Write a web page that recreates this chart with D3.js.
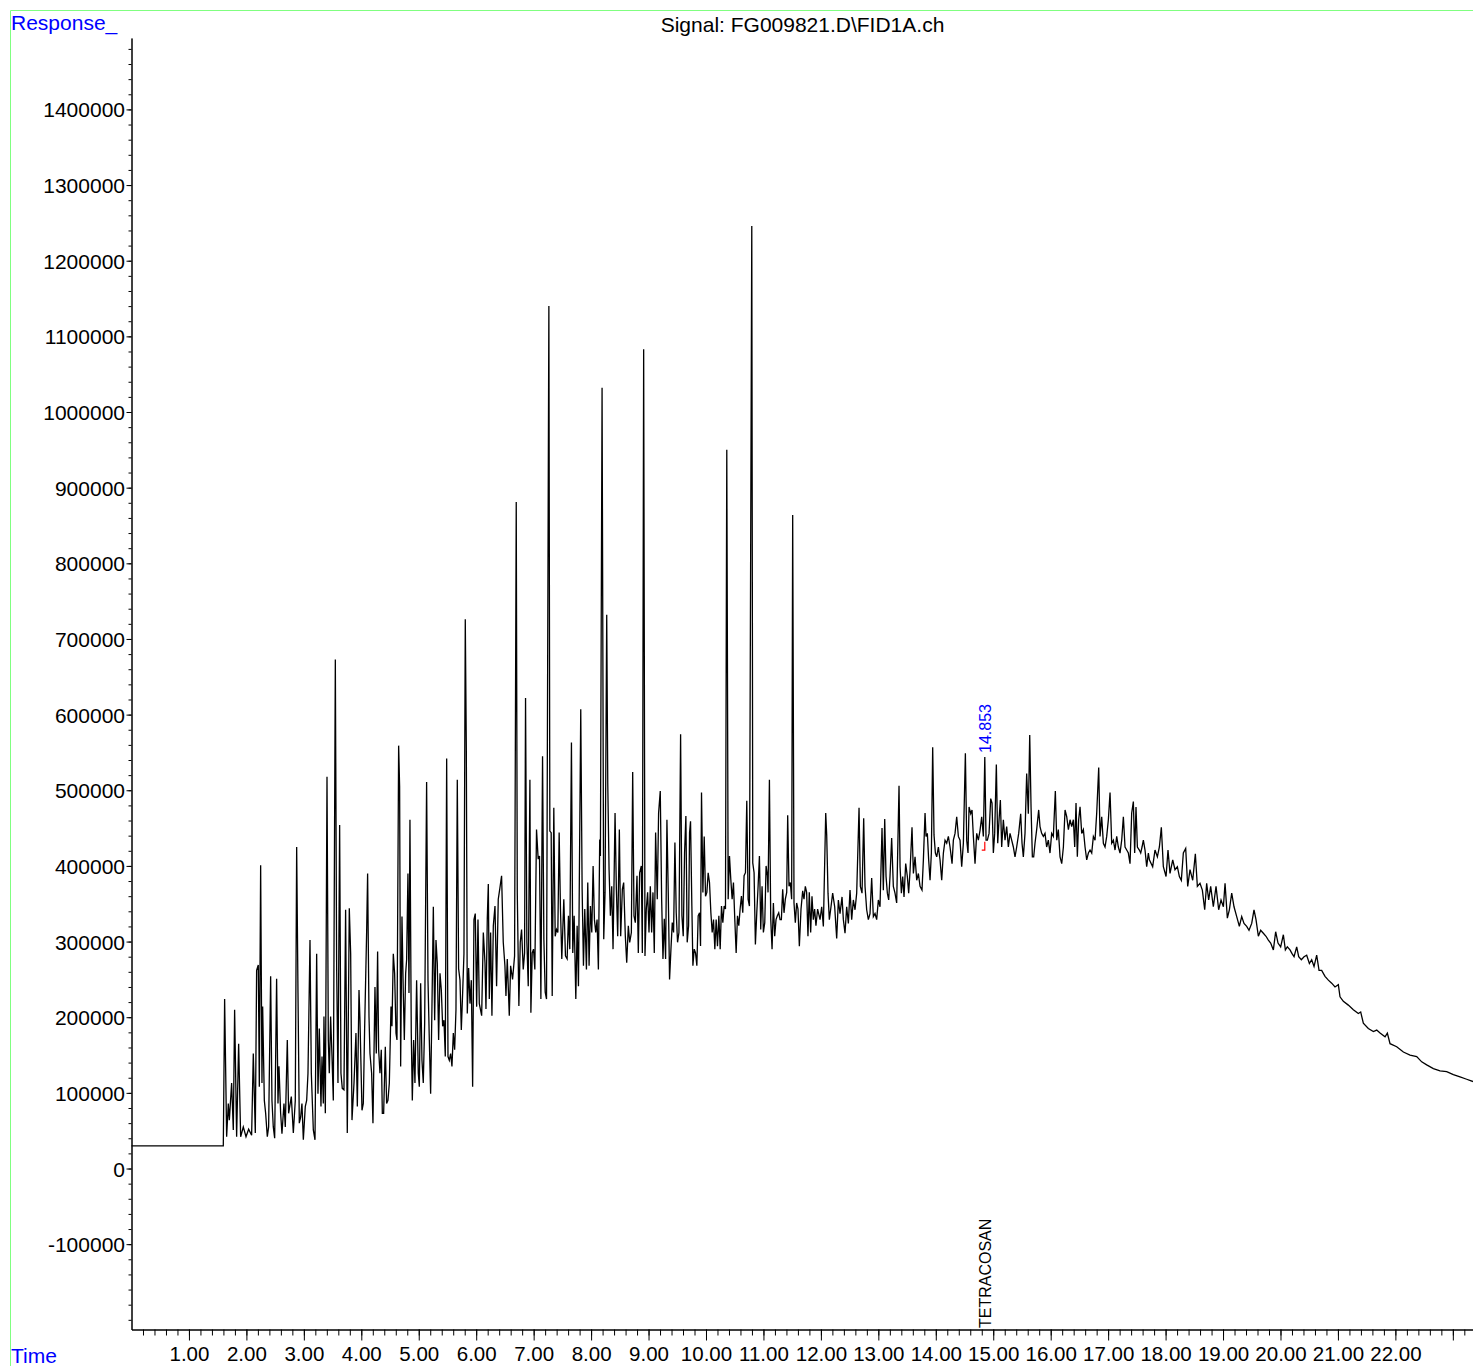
<!DOCTYPE html>
<html>
<head>
<meta charset="utf-8">
<script src="https://cdn.jsdelivr.net/npm/d3@7/dist/d3.min.js"></script>
<style>
  html, body { margin: 0; padding: 0; background: #fff; }
  svg { display: block; }
  text { font-family: "Liberation Sans", Arial, Helvetica, sans-serif; }
</style>
</head>
<body>
<script>
// ---------------- DATA ----------------
const chartTitle = "Signal: FG009821.D\\FID1A.ch";
const yAxisTitle = "Response_";
const xAxisTitle = "Time";

// Y tick labels (response)
const responseTickValues = [-100000, 0, 100000, 200000, 300000, 400000, 500000, 600000, 700000,
  800000, 900000, 1000000, 1100000, 1200000, 1300000, 1400000];
const responseTickLabels = ["-100000", "0", "100000", "200000", "300000", "400000", "500000", "600000",
  "700000", "800000", "900000", "1000000", "1100000", "1200000", "1300000", "1400000"];

// X tick labels (time, min)
const timeTickValues = [1, 2, 3, 4, 5, 6, 7, 8, 9, 10, 11, 12, 13, 14, 15, 16, 17, 18, 19, 20, 21, 22, 23];
const timeTickLabels = ["1.00", "2.00", "3.00", "4.00", "5.00", "6.00", "7.00", "8.00", "9.00", "10.00",
  "11.00", "12.00", "13.00", "14.00", "15.00", "16.00", "17.00", "18.00", "19.00", "20.00", "21.00", "22.00", ""];

// Signal trace: [time (min), response]
const traceStart = [[0, 30000], [1.598, 30000]];

const trace0to6 = [
  [1.621,224000],[1.656,42000],[1.685,86000],[1.703,64000],[1.743,113000],[1.772,51000],[1.795,210000],
  [1.830,42000],[1.865,165000],[1.900,42000],[1.946,55000],[1.993,42000],[2.039,52000],[2.091,44000],
  [2.120,152000],[2.155,47000],[2.178,262000],[2.207,269000],[2.225,108000],[2.248,401000],[2.271,113000],
  [2.283,214000],[2.312,90000],[2.335,73000],[2.364,42000],[2.387,55000],[2.422,254000],[2.445,90000],
  [2.468,55000],[2.492,40000],[2.526,251000],[2.550,86000],[2.567,135000],[2.596,73000],[2.619,46000],
  [2.654,86000],[2.677,55000],[2.712,170000],[2.735,73000],[2.782,95000],[2.817,47000],[2.851,90000],
  [2.875,425000],[2.898,232000],[2.921,60000],[2.944,68000],[2.967,86000],[2.991,38000],[3.025,82000],
  [3.049,90000],[3.072,126000],[3.107,302000],[3.130,126000],[3.165,51000],[3.194,38000],[3.223,284000],
  [3.246,99000],[3.269,185000],[3.298,82000],[3.316,148000],[3.339,86000],[3.350,201000],[3.374,73000],
  [3.403,518000],[3.426,170000],[3.443,126000],[3.466,201000],[3.490,148000],[3.513,90000],[3.548,673000],
  [3.571,265000],[3.594,113000],[3.623,454000],[3.646,126000],[3.669,106000],[3.698,104000],[3.727,342000],
  [3.756,47000],[3.791,344000],[3.815,284000],[3.838,64000],[3.873,113000],[3.907,179000],[3.931,82000],
  [3.960,236000],[3.977,196000],[4.012,77000],[4.035,86000],[4.058,185000],[4.093,313000],[4.110,390000],
  [4.134,201000],[4.151,152000],[4.180,126000],[4.203,60000],[4.238,240000],[4.261,152000],[4.284,287000],
  [4.302,157000],[4.325,126000],[4.348,157000],[4.366,73000],[4.389,73000],[4.418,161000],[4.441,86000],
  [4.464,90000],[4.488,113000],[4.517,214000],[4.534,188000],[4.557,284000],[4.580,258000],[4.604,179000],
  [4.621,170000],[4.650,559000],[4.667,505000],[4.685,135000],[4.708,333000],[4.731,232000],[4.749,170000],
  [4.772,258000],[4.789,276000],[4.812,390000],[4.830,232000],[4.847,461000],[4.870,179000],[4.888,90000],
  [4.911,170000],[4.934,113000],[4.963,249000],[4.992,126000],[5.010,108000],[5.033,245000],[5.056,143000],
  [5.079,113000],[5.103,192000],[5.137,511000],[5.161,249000],[5.184,170000],[5.207,99000],[5.230,214000],
  [5.254,346000],[5.277,196000],[5.300,302000],[5.323,271000],[5.346,170000],[5.370,258000],[5.393,236000],
  [5.416,188000],[5.439,196000],[5.462,148000],[5.486,542000],[5.509,148000],[5.532,143000],[5.555,152000],
  [5.578,135000],[5.602,179000],[5.625,157000],[5.648,210000],[5.671,514000],[5.694,264000],[5.718,249000],
  [5.741,183000],[5.764,232000],[5.787,284000],[5.810,726000],[5.828,556000],[5.845,205000],[5.868,265000],
  [5.892,218000],[5.915,249000],[5.938,108000],[5.961,329000],[5.984,337000],[6.008,214000],[6.031,329000],
  [6.054,218000]
];

const trace6to12 = [
  [6.095,202000],[6.124,312000],[6.153,272000],[6.170,211000],[6.193,330000],[6.211,376000],[6.228,224000],
  [6.251,312000],[6.274,202000],[6.298,321000],[6.327,347000],[6.355,241000],[6.384,356000],[6.413,371000],
  [6.442,387000],[6.471,299000],[6.500,268000],[6.518,228000],[6.541,277000],[6.576,202000],[6.599,268000],
  [6.633,250000],[6.668,281000],[6.697,881000],[6.715,365000],[6.743,215000],[6.767,299000],[6.790,316000],
  [6.819,263000],[6.842,285000],[6.859,622000],[6.882,299000],[6.906,241000],[6.935,514000],[6.952,206000],
  [6.975,285000],[6.998,290000],[7.021,263000],[7.050,448000],[7.079,409000],[7.102,413000],[7.126,224000],
  [7.155,545000],[7.178,303000],[7.201,233000],[7.224,224000],[7.265,1140000],[7.282,446000],[7.305,444000],
  [7.323,228000],[7.351,477000],[7.375,307000],[7.398,316000],[7.421,312000],[7.444,444000],[7.467,343000],
  [7.490,277000],[7.525,356000],[7.554,281000],[7.583,277000],[7.606,334000],[7.629,290000],[7.658,563000],
  [7.681,285000],[7.705,334000],[7.734,224000],[7.757,321000],[7.780,241000],[7.820,607000],[7.844,369000],
  [7.867,268000],[7.890,343000],[7.919,263000],[7.942,378000],[7.965,268000],[7.988,347000],[8.012,312000],
  [8.035,400000],[8.058,329000],[8.081,312000],[8.104,329000],[8.127,263000],[8.150,435000],[8.162,413000],
  [8.191,1032000],[8.220,303000],[8.243,365000],[8.272,732000],[8.290,510000],[8.313,395000],[8.336,334000],
  [8.359,373000],[8.382,290000],[8.417,470000],[8.440,369000],[8.463,307000],[8.492,448000],[8.515,307000],
  [8.544,369000],[8.567,378000],[8.596,307000],[8.620,272000],[8.648,321000],[8.672,299000],[8.701,312000],
  [8.724,524000],[8.747,334000],[8.770,325000],[8.799,387000],[8.822,285000],[8.845,391000],[8.874,400000],
  [8.892,285000],[8.915,1083000],[8.938,281000],[8.961,343000],[8.984,365000],[9.008,312000],[9.031,373000],
  [9.054,312000],[9.077,365000],[9.100,285000],[9.123,444000],[9.152,356000],[9.175,470000],[9.204,499000],
  [9.228,356000],[9.251,277000],[9.274,330000],[9.297,277000],[9.320,461000],[9.343,365000],[9.366,250000],
  [9.390,290000],[9.413,325000],[9.436,312000],[9.459,431000],[9.482,338000],[9.505,299000],[9.529,312000],
  [9.558,574000],[9.581,334000],[9.604,307000],[9.627,417000],[9.650,466000],[9.673,299000],[9.697,321000],
  [9.714,444000],[9.731,459000],[9.754,347000],[9.772,268000],[9.795,290000],[9.818,285000],[9.841,268000],
  [9.864,334000],[9.888,338000],[9.905,294000],[9.922,497000],[9.946,365000],[9.969,439000],[9.992,360000],
  [10.015,365000],[10.038,391000],[10.061,378000],[10.085,338000],[10.108,312000],[10.131,329000],
  [10.154,290000],[10.177,329000],[10.200,294000],[10.224,334000],[10.247,290000],[10.270,347000],
  [10.293,325000],[10.316,347000],[10.339,343000],[10.362,950000],[10.386,356000],[10.409,413000],
  [10.432,382000],[10.455,356000],[10.478,378000],[10.501,330000],[10.525,285000],[10.548,334000],
  [10.571,321000],[10.594,343000],[10.617,360000],[10.640,338000],[10.663,387000],[10.687,391000],
  [10.710,486000],[10.733,356000],[10.756,347000],[10.797,1246000],[10.814,404000],[10.837,391000],
  [10.860,296000],[10.884,338000],[10.907,373000],[10.930,413000],[10.953,316000],[10.976,373000],
  [10.999,312000],[11.023,325000],[11.046,400000],[11.069,387000],[11.080,365000],[11.104,514000],
  [11.127,330000],[11.150,290000],[11.173,351000],[11.196,307000],[11.219,329000],[11.242,334000],
  [11.266,338000],[11.289,329000],[11.312,329000],[11.335,369000],[11.358,338000],[11.381,356000],
  [11.405,365000],[11.422,467000],[11.445,373000],[11.468,378000],[11.491,356000],[11.509,864000],
  [11.532,351000],[11.555,325000],[11.578,351000],[11.601,343000],[11.625,294000],[11.654,343000],
  [11.683,367000],[11.706,356000],[11.729,373000],[11.752,365000],[11.775,307000],[11.798,365000],
  [11.822,312000],[11.845,360000],[11.868,329000],[11.891,343000],[11.914,321000],[11.943,343000]
];

const trace12to18 = [
  [11.985,329000],[12.014,346000],[12.043,320000],[12.084,470000],[12.101,441000],[12.124,364000],
  [12.147,329000],[12.176,346000],[12.205,364000],[12.240,346000],[12.275,304000],[12.304,355000],
  [12.333,337000],[12.368,359000],[12.391,329000],[12.420,311000],[12.449,346000],[12.478,324000],
  [12.507,368000],[12.536,329000],[12.565,355000],[12.594,342000],[12.623,364000],[12.664,477000],
  [12.687,373000],[12.716,364000],[12.745,463000],[12.768,373000],[12.797,342000],[12.826,329000],
  [12.855,337000],[12.884,384000],[12.913,333000],[12.942,337000],[12.971,329000],[13.000,355000],
  [13.029,346000],[13.064,450000],[13.087,368000],[13.111,462000],[13.134,386000],[13.157,364000],
  [13.180,355000],[13.203,386000],[13.232,437000],[13.261,373000],[13.290,364000],[13.319,351000],
  [13.360,506000],[13.378,399000],[13.401,364000],[13.424,386000],[13.447,359000],[13.476,403000],
  [13.505,386000],[13.528,364000],[13.552,394000],[13.586,451000],[13.610,390000],[13.639,412000],
  [13.668,381000],[13.697,390000],[13.726,373000],[13.760,368000],[13.784,408000],[13.813,470000],
  [13.830,439000],[13.853,443000],[13.876,408000],[13.900,381000],[13.923,417000],[13.946,557000],
  [13.969,441000],[13.993,417000],[14.016,412000],[14.045,425000],[14.074,408000],[14.103,381000],
  [14.132,417000],[14.161,434000],[14.190,430000],[14.219,439000],[14.248,425000],[14.283,403000],
  [14.306,434000],[14.335,443000],[14.364,465000],[14.393,439000],[14.422,434000],[14.451,399000],
  [14.480,430000],[14.515,549000],[14.538,434000],[14.561,417000],[14.579,478000],[14.608,469000],
  [14.631,474000],[14.654,439000],[14.683,403000],[14.712,443000],[14.741,434000],[14.770,447000],
  [14.799,465000],[14.828,439000],[14.853,544000],[14.875,434000],[14.898,434000],[14.927,443000],
  [14.956,489000],[14.979,483000],[15.002,417000],[15.025,443000],[15.054,534000],[15.078,430000],
  [15.101,461000],[15.124,487000],[15.147,425000],[15.176,461000],[15.205,434000],[15.234,452000],
  [15.263,425000],[15.292,443000],[15.321,434000],[15.350,425000],[15.379,412000],[15.408,425000],
  [15.443,443000],[15.478,469000],[15.501,430000],[15.524,412000],[15.553,443000],[15.582,522000],
  [15.611,469000],[15.635,573000],[15.658,478000],[15.681,412000],[15.704,412000],[15.727,430000],
  [15.756,448000],[15.791,474000],[15.814,452000],[15.843,443000],[15.872,439000],[15.901,443000],
  [15.930,425000],[15.959,434000],[15.988,417000],[16.017,443000],[16.046,439000],[16.081,499000],
  [16.105,434000],[16.133,448000],[16.163,412000],[16.192,403000],[16.221,425000],[16.250,474000],
  [16.279,465000],[16.308,448000],[16.337,461000],[16.366,452000],[16.395,461000],[16.418,425000],
  [16.441,483000],[16.464,412000],[16.487,461000],[16.511,478000],[16.540,443000],[16.569,448000],
  [16.598,425000],[16.627,408000],[16.656,417000],[16.685,421000],[16.714,417000],[16.743,439000],
  [16.772,434000],[16.801,470000],[16.836,530000],[16.859,439000],[16.888,465000],[16.917,430000],
  [16.946,425000],[16.975,439000],[17.004,461000],[17.033,497000],[17.062,430000],[17.091,434000],
  [17.120,421000],[17.149,439000],[17.178,425000],[17.207,417000],[17.236,434000],[17.265,465000],
  [17.294,425000],[17.323,421000],[17.352,417000],[17.381,403000],[17.410,470000],[17.439,485000],
  [17.462,417000],[17.485,478000],[17.509,425000],[17.543,421000],[17.567,417000],[17.590,425000],
  [17.613,434000],[17.642,421000],[17.671,399000],[17.700,417000],[17.718,408000]
];

const trace18toEnd = [
  [17.775,399000],[17.816,421000],[17.857,412000],[17.892,425000],[17.926,451000],[17.961,399000],
  [18.008,386000],[18.042,421000],[18.077,390000],[18.124,408000],[18.164,395000],[18.205,399000],
  [18.240,386000],[18.274,381000],[18.309,417000],[18.350,423000],[18.385,373000],[18.425,395000],
  [18.472,381000],[18.518,416000],[18.553,373000],[18.599,377000],[18.640,368000],[18.681,342000],
  [18.715,377000],[18.750,355000],[18.785,373000],[18.831,346000],[18.878,373000],[18.924,342000],
  [18.965,355000],[19.006,346000],[19.035,377000],[19.075,331000],[19.110,342000],[19.151,364000],
  [19.191,346000],[19.238,333000],[19.284,320000],[19.325,333000],[19.365,324000],[19.412,320000],
  [19.452,315000],[19.499,324000],[19.539,342000],[19.574,329000],[19.615,307000],[19.655,315000],
  [19.702,311000],[19.748,307000],[19.789,302000],[19.829,298000],[19.876,289000],[19.916,313000],
  [19.957,298000],[20.003,293000],[20.050,309000],[20.085,289000],[20.119,293000],[20.166,289000],
  [20.201,284000],[20.236,280000],[20.282,293000],[20.317,280000],[20.363,276000],[20.410,280000],
  [20.456,282000],[20.503,271000],[20.543,276000],[20.584,267000],[20.630,282000],[20.671,262000],
  [20.717,262000],[20.775,254000],[20.833,249000],[20.891,245000],[20.949,240000],[21.007,243000],
  [21.036,227000],[21.094,221000],[21.181,216000],[21.268,210000],[21.355,205000],[21.396,207000],
  [21.442,192000],[21.529,185000],[21.617,181000],[21.675,183000],[21.733,179000],[21.820,174000],
  [21.860,179000],[21.907,165000],[22.023,161000],[22.139,154000],[22.255,150000],[22.371,148000],
  [22.458,141000],[22.545,137000],[22.661,132000],[22.777,129000],[22.893,128000],[23.009,124000],
  [23.125,121000],[23.241,118000],[23.351,115000]
];

// Integrated / identified peak
const labelledPeakTime = 14.853;
const labelledPeakResponse = 544000;
const labelledPeakText = "14.853";
const compoundName = "TETRACOSAN";
const peakBaselineMark = [[14.80, 421000], [14.853, 421000], [14.853, 432000]];

// ---------------- DRAWING ----------------
const W = 1473, H = 1366;
const svg = d3.select("body").append("svg").attr("width", W).attr("height", H);
svg.append("rect").attr("width", W).attr("height", H).attr("fill", "#fff");

const x = d3.scaleLinear().domain([0, 23.351]).range([131.5, 1473]);
const y = d3.scaleLinear().domain([-212800, 1494400]).range([1329.5, 38]);

// green frame
svg.append("path")
  .attr("d", `M10.5,${H} L10.5,10.5 L${W},10.5`)
  .attr("fill", "none").attr("stroke", "#80ff80").attr("stroke-width", 1);

// Y axis: minor ticks
const yMinor = d3.range(-200000, 1494000, 20000);
svg.append("g").attr("transform", "translate(131.5,0)")
  .call(d3.axisLeft(y).tickValues(yMinor).tickSize(3).tickSizeOuter(0).tickFormat(""))
  .call(g => g.selectAll("line,path").attr("stroke", "#000"));
// Y axis: major labelled ticks
svg.append("g").attr("transform", "translate(131.5,0)")
  .call(d3.axisLeft(y).tickValues(responseTickValues).tickSize(5).tickSizeOuter(0).tickPadding(1.5)
    .tickFormat((d, i) => responseTickLabels[i]))
  .call(g => g.selectAll("line,path").attr("stroke", "#000"))
  .call(g => g.selectAll("text").attr("font-size", 21).attr("fill", "#000")
    .attr("font-family", "Liberation Sans, Arial, sans-serif").attr("dy", "0.36em"));

// X axis: minor ticks
const xMinor = d3.range(0.2, 23.3, 0.2);
svg.append("g").attr("transform", "translate(0,1329.5)")
  .call(d3.axisBottom(x).tickValues(xMinor).tickSize(6).tickSizeOuter(0).tickFormat(""))
  .call(g => g.selectAll("line,path").attr("stroke", "#000"));
// X axis: major labelled ticks
svg.append("g").attr("transform", "translate(0,1329.5)")
  .call(d3.axisBottom(x).tickValues(timeTickValues).tickSize(11).tickSizeOuter(0).tickPadding(6)
    .tickFormat((d, i) => timeTickLabels[i]))
  .call(g => g.selectAll("line,path").attr("stroke", "#000"))
  .call(g => g.selectAll("text").attr("font-size", 20.5).attr("fill", "#000")
    .attr("font-family", "Liberation Sans, Arial, sans-serif"));

// titles
svg.append("text").attr("x", 11).attr("y", 29.5).attr("font-size", 21).attr("fill", "#0000ff").text(yAxisTitle);
svg.append("text").attr("x", 11).attr("y", 1363).attr("font-size", 21).attr("fill", "#0000ff").text(xAxisTitle);
svg.append("text").attr("x", 802.5).attr("y", 32).attr("text-anchor", "middle")
  .attr("font-size", 21).attr("fill", "#000").text(chartTitle);

// trace
const trace = [].concat(traceStart, trace0to6, trace6to12, trace12to18, trace18toEnd);
const line = d3.line().x(d => x(d[0])).y(d => y(d[1]));
svg.append("path").datum(trace)
  .attr("d", line)
  .attr("fill", "none").attr("stroke", "#000").attr("stroke-width", 1.3)
  .attr("stroke-linejoin", "miter");

// baseline mark (red)
svg.append("path").datum(peakBaselineMark).attr("d", line)
  .attr("fill", "none").attr("stroke", "#ff0000").attr("stroke-width", 1.2);

// peak retention-time label
const px = x(labelledPeakTime);
svg.append("text")
  .attr("transform", `translate(${px + 6},${y(labelledPeakResponse) - 4}) rotate(-90)`)
  .attr("font-size", 16).attr("fill", "#0000ff").text(labelledPeakText);

// compound name at axis
svg.append("text")
  .attr("transform", `translate(${px + 6},1328) rotate(-90)`)
  .attr("font-size", 16).attr("fill", "#000").text(compoundName);
</script>
</body>
</html>
